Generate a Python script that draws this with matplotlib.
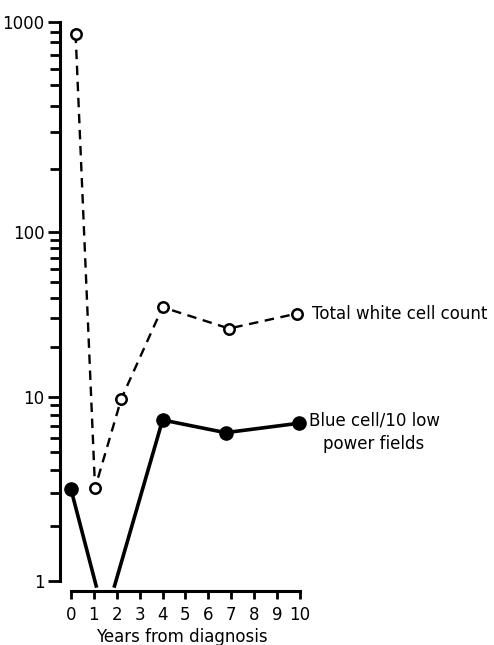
import matplotlib
matplotlib.use("Agg")
import matplotlib.pyplot as plt
import numpy as np
from matplotlib.ticker import FixedLocator, FixedFormatter, NullFormatter

# data
years_wbc = [0.2, 1.05, 2.2, 4.0, 6.9, 9.85]
wbc = [880, 3.2, 9.8, 35, 26, 32]
years_blue = [0.0, 1.1, 1.9, 4.0, 6.75, 9.95]
blue = [3.15, 0.94, 0.94, 7.5, 6.4, 7.2]
blue_marked = [0, 3, 4, 5]   # the points below 1 have no dot

x_ticks = list(range(0, 11))
y_ticks = [1, 10, 100, 1000]
y_tick_labels = ["1", "10", "100", "1000"]
wbc_label = "Total white cell count"
blue_label = "Blue cell/10 low\npower fields"
x_title = "Years from diagnosis"

# the hand drawn log axis has unequal decades
LOG_K = np.array([0.0, 1.0, 2.0, 3.0])
PX_K = np.array([0.0, 184.0, 349.0, 559.0])


def fwd(v):
    l = np.log10(np.clip(v, 1e-6, None))
    out = np.interp(l, LOG_K, PX_K)
    out = np.where(l < 0, l * 184.0, out)
    out = np.where(l > 3, 559.0 + (l - 3) * 210.0, out)
    return out


def inv(p):
    p = np.asarray(p, dtype=float)
    l = np.interp(p, PX_K, LOG_K)
    l = np.where(p < 0, p / 184.0, l)
    l = np.where(p > 559, 3 + (p - 559) / 210.0, l)
    return 10 ** l


W, H = 494, 645
fig = plt.figure(figsize=(W / 100, H / 100), dpi=100)

x0 = -0.48          # where the y axis sits
x1 = 10.2
px_per_year = 22.9
left_px = 60
right_px = 71 + x1 * px_per_year
ax = fig.add_axes([left_px / W, (H - 591) / H, (right_px - left_px) / W, (591 - 22) / H])
ax.set_yscale("function", functions=(fwd, inv))
ax.set_xlim(x0, x1)
ax.set_ylim(inv(-10.0), 1000)

ax.plot(years_wbc, wbc, linestyle=(0, (4, 2.8)), color="black", lw=1.7,
        marker="o", ms=7.5, mfc="white", mec="black", mew=1.8, clip_on=False, zorder=3)

# solid line drops off the bottom between years 1 and 2, so draw it in two pieces
ax.plot(years_blue[:2], blue[:2], "-", color="black", lw=2.6, clip_on=False, zorder=3)
ax.plot(years_blue[2:], blue[2:], "-", color="black", lw=2.6, clip_on=False, zorder=3)
ax.plot([years_blue[i] for i in blue_marked], [blue[i] for i in blue_marked], "o",
        ms=9.5, mfc="black", mec="black", clip_on=False, zorder=4)

fs = 12
ax.annotate(wbc_label, xy=(years_wbc[-1], wbc[-1]), xytext=(11, 0),
            textcoords="offset points", va="center", ha="left", fontsize=fs)
ax.annotate(blue_label, xy=(years_blue[-1], blue[-1]), xytext=(7, 8.5),
            textcoords="offset points", va="top", ha="left", fontsize=fs,
            multialignment="center", linespacing=1.4)

for s in ["top", "right"]:
    ax.spines[s].set_visible(False)
ax.spines["left"].set_linewidth(2.2)
ax.spines["bottom"].set_linewidth(2.2)
ax.spines["left"].set_bounds(1, 1000)
ax.spines["bottom"].set_bounds(0, 10)

ax.yaxis.set_major_locator(FixedLocator(y_ticks))
ax.yaxis.set_major_formatter(FixedFormatter(y_tick_labels))
minors = [m * d for d in [1, 10, 100] for m in range(2, 10)]
ax.yaxis.set_minor_locator(FixedLocator(minors))
ax.yaxis.set_minor_formatter(NullFormatter())
ax.tick_params(axis="y", which="major", length=9, width=2, labelsize=fs, pad=2)
ax.tick_params(axis="y", which="minor", length=7, width=2)

ax.set_xticks(x_ticks)
ax.set_xticklabels([str(t) for t in x_ticks])
ax.tick_params(axis="x", which="major", length=6, width=2, labelsize=fs, pad=5)
ax.set_xlabel(x_title, fontsize=fs, labelpad=2.5)

fig.savefig("out.png", dpi=100)
